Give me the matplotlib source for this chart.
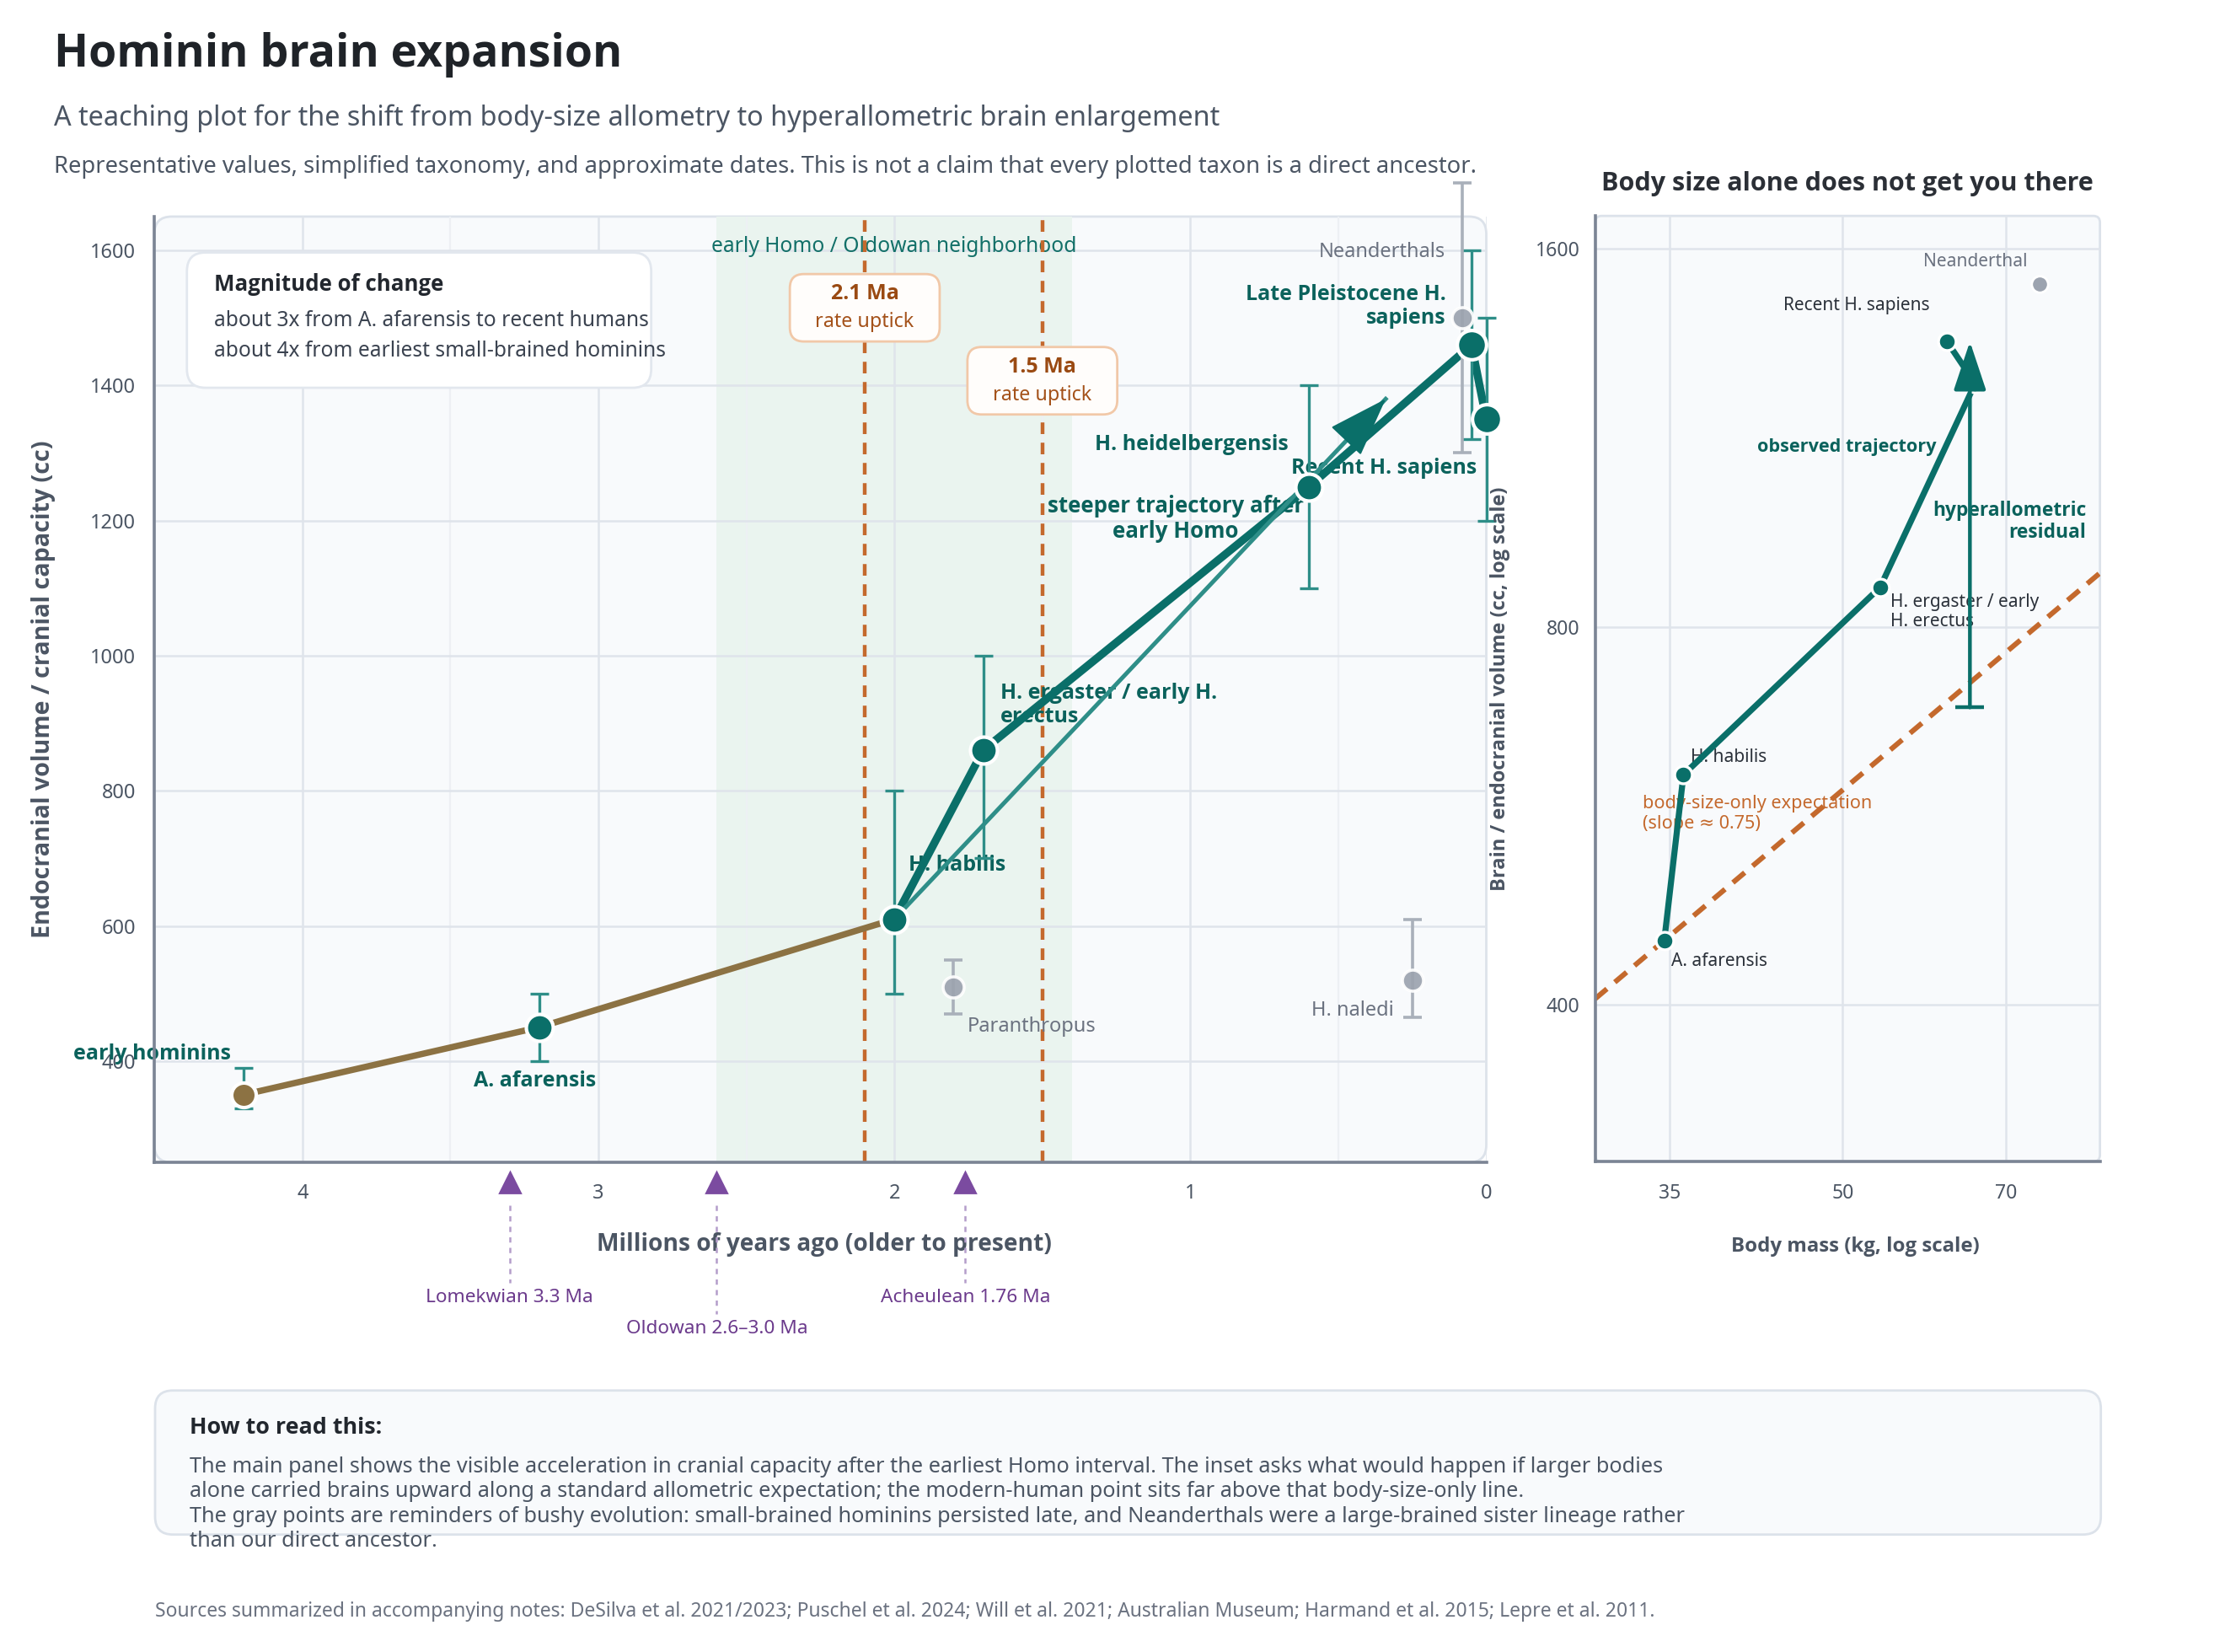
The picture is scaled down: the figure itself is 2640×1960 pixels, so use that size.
import numpy as np
import matplotlib
matplotlib.use("Agg")
import matplotlib.pyplot as plt
import matplotlib.transforms as mtransforms
from matplotlib import font_manager as fm
from matplotlib.patches import FancyBboxPatch, FancyArrowPatch
from matplotlib.ticker import FixedLocator, FixedFormatter, MultipleLocator, NullLocator

plt.rcParams['font.family'] = ['Noto Sans', 'DejaVu Sans']


def has_bold(name):
    for f in fm.fontManager.ttflist:
        if f.name == name:
            w = f.weight
            if isinstance(w, str):
                w = fm.weight_dict.get(w, 400)
            if w >= 600:
                return True
    return False


BOLD_FAM = next((n for n in ['Noto Sans', 'Open Sans', 'Lato', 'Roboto', 'Inter', 'Liberation Sans']
                 if has_bold(n)), 'DejaVu Sans')
BOLD = dict(fontweight='bold', family=[BOLD_FAM, 'DejaVu Sans'])

# ---- data ----
lineage_names = ["early hominins", "A. afarensis", "H. habilis", "H. ergaster / early H.\nerectus",
                 "H. heidelbergensis", "Late Pleistocene H.\nsapiens", "Recent H. sapiens"]
lineage_ma = [4.2, 3.2, 2.0, 1.7, 0.6, 0.05, 0.0]
lineage_cc = [350, 450, 610, 860, 1250, 1460, 1350]
lineage_lo = [330, 400, 500, 700, 1100, 1320, 1200]
lineage_hi = [390, 500, 800, 1000, 1400, 1600, 1500]

side_names = ["Paranthropus", "H. naledi", "Neanderthals"]
side_ma = [1.8, 0.25, 0.08]
side_cc = [510, 520, 1500]
side_lo = [470, 465, 1300]
side_hi = [550, 610, 1700]

tool_labels = ["Lomekwian 3.3 Ma", "Oldowan 2.6–3.0 Ma", "Acheulean 1.76 Ma"]
tool_ma = [3.3, 2.6, 1.76]

uptick_ma = [2.1, 1.5]
uptick_cc = [1515, 1407]
homo_window = [2.6, 1.4]
trend_tip = [0.34, 1380]   # end of "steeper trajectory" arrow

inset_names = ["A. afarensis", "H. habilis", "H. ergaster / early\nH. erectus", "", "Recent H. sapiens"]
inset_mass = [34.6, 36.0, 54.0, 65.7, 62.0]
inset_cc = [450, 610, 860, 1250, 1350]
neander_mass = [75.0]
neander_cc = [1500]
allometry_slope = 0.75
resid_mass = 65.0
resid_from = 690

# ---- colours ----
TEAL = '#0A6F69'
TEAL_LABEL = '#0B625C'
TEAL_LIGHT = '#2E8E88'
BROWN = '#8C7243'
GRAY = '#9CA3AF'
GRAY_BAR = '#A9B0BA'
GRAY_TEXT = '#6B7280'
ORANGE = '#C4692D'
PURPLE = '#7B4BA0'
DARK = '#22272E'
MID = '#4B5563'
GRID = '#DFE4EB'

fig = plt.figure(figsize=(13.2, 9.8), dpi=200)
fig.patch.set_facecolor('white')

fig.text(0.0242, 0.967, "Hominin brain expansion", fontsize=19.3, color='#1F2328', va='center', **BOLD)
fig.text(0.0242, 0.9286, "A teaching plot for the shift from body-size allometry to hyperallometric brain enlargement",
         fontsize=11.65, color=MID, va='center')
fig.text(0.0242, 0.899, "Representative values, simplified taxonomy, and approximate dates. "
         "This is not a claim that every plotted taxon is a direct ancestor.",
         fontsize=9.85, color=MID, va='center')


def panel_frame(a, ratio):
    a.set_facecolor('none')
    a.add_patch(FancyBboxPatch((0, 0), 1, 1, boxstyle="round,pad=0,rounding_size=0.013",
                               mutation_aspect=ratio, transform=a.transAxes,
                               facecolor='#F8FAFC', edgecolor='#DCE2EA', lw=1.0, zorder=0.1, clip_on=False))
    for s in ['top', 'right']:
        a.spines[s].set_visible(False)
    for s in ['left', 'bottom']:
        a.spines[s].set_color('#7B8494')
        a.spines[s].set_linewidth(1.3)
    a.set_axisbelow(True)


def point_box(a, x, y, w, h):
    # rounded box of w x h points centred on a data point
    tr = (mtransforms.Affine2D().scale(1 / 72.0) + fig.dpi_scale_trans
          + mtransforms.ScaledTranslation(x, y, a.transData))
    a.add_patch(FancyBboxPatch((-w / 2, -h / 2), w, h, boxstyle="round,pad=0,rounding_size=6",
                               transform=tr, fc='#FFFDFB', ec='#F1C8A8', lw=1.0, zorder=7, clip_on=False))


# ================= main panel =================
ax = fig.add_axes([0.0694, 0.2964, 0.5986, 0.5725])
panel_frame(ax, 1580.0 / 1122.0)
ax.set_xlim(4.5, 0)
ax.set_ylim(250, 1650)
ax.xaxis.set_major_locator(FixedLocator([4, 3, 2, 1, 0]))
ax.xaxis.set_minor_locator(MultipleLocator(0.5))
ax.yaxis.set_major_locator(FixedLocator([400, 600, 800, 1000, 1200, 1400, 1600]))
ax.grid(True, which='major', color=GRID, lw=0.9)
ax.grid(True, which='minor', axis='x', color='#EDF0F4', lw=0.8)
ax.tick_params(which='both', length=0, labelsize=8.5, labelcolor=MID)
ax.tick_params(axis='x', pad=9)
ax.tick_params(axis='y', pad=8)

ax.axvspan(homo_window[0], homo_window[1], color='#EAF4EF', zorder=0.3, lw=0)
ax.text(np.mean(homo_window), 1606, "early Homo / Oldowan neighborhood", ha='center', va='center',
        fontsize=8.85, color='#127068', zorder=1.2)

for x in uptick_ma:
    ax.axvline(x, color=ORANGE, lw=1.6, ls=(0, (3.1, 2.3)), zorder=1.5)
for x, y in zip(uptick_ma, uptick_cc):
    point_box(ax, x, y, 64, 28.8)
    ax.annotate(f"{x:.1f} Ma", (x, y), xytext=(0, 6.0), textcoords='offset points', ha='center', va='center',
                fontsize=9.0, color='#9A4A12', zorder=8, **BOLD)
    ax.annotate("rate uptick", (x, y), xytext=(0, -6.2), textcoords='offset points', ha='center', va='center',
                fontsize=8.4, color='#A4521A', zorder=8)

# lineage lines
ax.plot(lineage_ma[:3], lineage_cc[:3], color=BROWN, lw=2.7, zorder=2, solid_capstyle='round')
ax.plot(lineage_ma[2:], lineage_cc[2:], color=TEAL, lw=3.4, zorder=2, solid_capstyle='round')

# steeper trajectory arrow
ax.plot([lineage_ma[2], trend_tip[0]], [lineage_cc[2], trend_tip[1]], color=TEAL_LIGHT, lw=1.8, zorder=2.5)
f = 0.93
ax.add_patch(FancyArrowPatch(
    (lineage_ma[2] + f * (trend_tip[0] - lineage_ma[2]), lineage_cc[2] + f * (trend_tip[1] - lineage_cc[2])),
    (trend_tip[0], trend_tip[1]), arrowstyle='-|>,head_length=1.15,head_width=0.4', mutation_scale=20,
    color=TEAL, lw=0.8, shrinkA=0, shrinkB=0, zorder=5))

# error bars
lin_err = [np.array(lineage_cc) - np.array(lineage_lo), np.array(lineage_hi) - np.array(lineage_cc)]
eb = ax.errorbar(lineage_ma, lineage_cc, yerr=lin_err, fmt='none', ecolor=TEAL_LIGHT, elinewidth=1.2,
                 capsize=4, capthick=1.2, zorder=3)
side_err = [np.array(side_cc) - np.array(side_lo), np.array(side_hi) - np.array(side_cc)]
eb2 = ax.errorbar(side_ma, side_cc, yerr=side_err, fmt='none', ecolor=GRAY_BAR, elinewidth=1.3,
                  capsize=4, capthick=1.3, zorder=3)
for cont in (eb, eb2):
    for art in list(cont.lines[1]) + list(cont.lines[2]):
        art.set_clip_on(False)

ax.plot(side_ma, side_cc, 'o', ms=9, color=GRAY, mec='white', mew=1.3, alpha=0.92, zorder=4, clip_on=False)
for i, (x, y) in enumerate(zip(lineage_ma, lineage_cc)):
    ms = 12.5 if i >= 5 else (10.5 if i == 0 else 11.5)
    ax.plot([x], [y], 'o', ms=ms, color=BROWN if i == 0 else TEAL, mec='white', mew=1.5, zorder=6, clip_on=False)

# labels (drawn under the lines, as in the reference)
lab_off = [(-39, 17.5, 'center'), (-2, -23, 'center'), (6, 23, 'left'), (7.5, 19.3, 'left'),
           (-8.5, 18, 'right'), (-11, 16.5, 'right'), (-4, -21, 'right')]
for name, x, y, (dx, dy, ha) in zip(lineage_names, lineage_ma, lineage_cc, lab_off):
    ax.annotate(name, (x, y), xytext=(dx, dy), textcoords='offset points', ha=ha, va='center',
                fontsize=9.0, color=TEAL_LABEL, zorder=1.8, annotation_clip=False, **BOLD)
side_off = [(6, -17, 'left'), (-8, -13, 'right'), (-7.5, 28, 'right')]
for name, x, y, (dx, dy, ha) in zip(side_names, side_ma, side_cc, side_off):
    ax.annotate(name, (x, y), xytext=(dx, dy), textcoords='offset points', ha=ha, va='center',
                fontsize=8.5, color=GRAY_TEXT, zorder=1.8, annotation_clip=False)

ax.text(1.05, 1203, "steeper trajectory after\nearly Homo", ha='center', va='center', fontsize=9.3,
        color=TEAL_LABEL, zorder=1.8, linespacing=1.15, **BOLD)

# magnitude box
ax.add_patch(FancyBboxPatch((0.0244, 0.819), 0.3486, 0.143, boxstyle="round,pad=0,rounding_size=0.014",
                            mutation_aspect=1.41, transform=ax.transAxes, fc='white', ec='#E2E7EE',
                            lw=1.0, zorder=5))
ax.text(0.0448, 0.928, "Magnitude of change", transform=ax.transAxes, fontsize=9.3,
        color=DARK, va='center', zorder=6, **BOLD)
ax.text(0.0448, 0.890, "about 3x from A. afarensis to recent humans", transform=ax.transAxes, fontsize=8.85,
        color='#3B4350', va='center', zorder=6)
ax.text(0.0448, 0.858, "about 4x from earliest small-brained hominins", transform=ax.transAxes, fontsize=8.85,
        color='#3B4350', va='center', zorder=6)

# tool markers below axis
trans = mtransforms.blended_transform_factory(ax.transData, ax.transAxes)
ax.plot(tool_ma, [-0.021] * len(tool_ma), '^', ms=8.5, color=PURPLE, transform=trans, clip_on=False, zorder=6)
tool_y = [-0.143, -0.176, -0.143]
for x, lab, ty in zip(tool_ma, tool_labels, tool_y):
    ax.plot([x, x], [-0.045, ty + 0.016], color='#B49DCA', lw=0.9, ls=(0, (2.5, 2.5)), transform=trans,
            clip_on=False)
    ax.text(x, ty, lab, transform=trans, ha='center', va='center', fontsize=8.15, color='#6B3A8C')

ax.set_xlabel("Millions of years ago (older to present)", fontsize=10.15, color=MID, **BOLD)
ax.xaxis.set_label_coords(0.503, -0.087)
ax.xaxis.label.set_verticalalignment('center')
ax.set_ylabel("Endocranial volume / cranial capacity (cc)", fontsize=10.3, color=MID, **BOLD)
ax.yaxis.set_label_coords(-0.0835, 0.5)
ax.yaxis.label.set_verticalalignment('center')

# ================= inset =================
ax2 = fig.add_axes([0.7169, 0.2969, 0.2269, 0.5724])
panel_frame(ax2, 599.0 / 1122.0)
ax2.set_xscale('log')
ax2.set_yscale('log')
ax2.set_xlim(30, 85)
ax2.set_ylim(300, 1700)
ax2.xaxis.set_major_locator(FixedLocator([35, 50, 70]))
ax2.xaxis.set_major_formatter(FixedFormatter(["35", "50", "70"]))
ax2.xaxis.set_minor_locator(NullLocator())
ax2.yaxis.set_major_locator(FixedLocator([400, 800, 1600]))
ax2.yaxis.set_major_formatter(FixedFormatter(["400", "800", "1600"]))
ax2.yaxis.set_minor_locator(NullLocator())
ax2.grid(True, which='major', color=GRID, lw=0.9)
ax2.tick_params(which='both', length=0, labelsize=8.3, labelcolor=MID)
ax2.tick_params(axis='x', pad=9.5)
ax2.tick_params(axis='y', pad=6.5)

m_line = np.array([30, 85])
expected = inset_cc[0] * (m_line / inset_mass[0]) ** allometry_slope
ax2.plot(m_line, expected, color=ORANGE, lw=2.2, ls=(0, (3, 2)), zorder=2)
ax2.text(33.1, 568, "body-size-only expectation\n(slope \u2248 0.75)", fontsize=7.8, color=ORANGE,
         ha='left', va='center', linespacing=1.2, zorder=1.8)

ax2.plot(inset_mass, inset_cc, color=TEAL, lw=2.6, marker='o', ms=7.5, mec='white', mew=1.2, zorder=4,
         solid_capstyle='round')
ax2.plot(neander_mass, neander_cc, 'o', ms=7, color=GRAY, mec='white', mew=1.0, zorder=4)
ax2.annotate("Neanderthal", (neander_mass[0], neander_cc[0]), xytext=(-5, 9.5), textcoords='offset points',
             ha='right', va='center', fontsize=7.5, color=GRAY_TEXT)

in_off = [(3, -9, 'left'), (3, 7.5, 'left'), (4.6, -10.5, 'left'), (0, 0, 'left'), (-7.5, 15.5, 'right')]
for name, x, y, (dx, dy, ha) in zip(inset_names, inset_mass, inset_cc, in_off):
    if name:
        ax2.annotate(name, (x, y), xytext=(dx, dy), textcoords='offset points', ha=ha, va='center',
                     fontsize=7.5, color='#2B313A', linespacing=1.15, zorder=1.8)

# residual arrow
ax2.plot([resid_mass], [resid_from], marker='_', ms=12, mew=1.6, color=TEAL, zorder=5)
ax2.add_patch(FancyArrowPatch((resid_mass, resid_from), (resid_mass, inset_cc[-1]),
                              arrowstyle='-|>,head_length=0.9,head_width=0.3', mutation_scale=20,
                              color=TEAL, lw=1.6, shrinkA=0, shrinkB=0, zorder=5))
ax2.text(82.6, 970, "hyperallometric\nresidual", ha='right', va='center', fontsize=8.2,
         color=TEAL_LABEL, linespacing=1.15, zorder=1.8, **BOLD)
ax2.text(60.7, 1113, "observed trajectory", ha='right', va='center', fontsize=7.8,
         color=TEAL_LABEL, zorder=1.8, **BOLD)

ax2.set_title("Body size alone does not get you there", fontsize=11.0, color='#2B2F36', pad=11, **BOLD)
ax2.set_xlabel("Body mass (kg, log scale)", fontsize=8.65, color=MID, **BOLD)
ax2.xaxis.set_label_coords(0.515, -0.090)
ax2.xaxis.label.set_verticalalignment('center')
ax2.set_ylabel("Brain / endocranial volume (cc, log scale)", fontsize=8.5, color=MID, **BOLD)
ax2.yaxis.set_label_coords(-0.188, 0.5)
ax2.yaxis.label.set_verticalalignment('center')

# ================= footer =================
fig.patches.append(FancyBboxPatch((0.0697, 0.0711), 0.8745, 0.0872, boxstyle="round,pad=0,rounding_size=0.008",
                                  mutation_aspect=2640 / 1960, transform=fig.transFigure, fc='#F8FAFC',
                                  ec='#DCE2EA', lw=1.0, figure=fig))
fig.text(0.0852, 0.1358, "How to read this:", fontsize=9.7, color=DARK, va='center', **BOLD)
fig.text(0.0852, 0.1184,
         "The main panel shows the visible acceleration in cranial capacity after the earliest Homo interval. "
         "The inset asks what would happen if larger bodies\n"
         "alone carried brains upward along a standard allometric expectation; the modern-human point sits far "
         "above that body-size-only line.\n"
         "The gray points are reminders of bushy evolution: small-brained hominins persisted late, and "
         "Neanderthals were a large-brained sister lineage rather\n"
         "than our direct ancestor.", fontsize=9.1, color=MID, va='top', linespacing=1.23)
fig.text(0.0697, 0.0245, "Sources summarized in accompanying notes: DeSilva et al. 2021/2023; Puschel et al. 2024; "
         "Will et al. 2021; Australian Museum; Harmand et al. 2015; Lepre et al. 2011.",
         fontsize=8.25, color=GRAY_TEXT, va='center')

fig.savefig("out.png", dpi=200, facecolor='white')
